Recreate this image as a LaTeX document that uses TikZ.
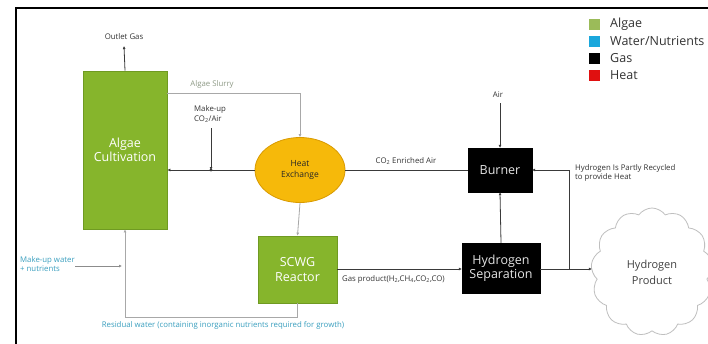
\documentclass[tikz,border=0pt]{standalone}
\usepackage{fontspec}
\setmainfont{Open Sans}
\usetikzlibrary{arrows.meta,shapes.geometric,shapes.symbols}
\definecolor{algaegreen}{HTML}{86B52C}
\definecolor{algaeedge}{HTML}{6F9A22}
\definecolor{legendgreen}{HTML}{9BBB59}
\definecolor{waterblue}{HTML}{1AA7DC}
\definecolor{heatred}{HTML}{E01010}
\definecolor{hxfill}{HTML}{F6B90A}
\definecolor{hxedge}{HTML}{D99A00}
\definecolor{watertext}{HTML}{3A9FBF}
\definecolor{slurrytext}{HTML}{8E9A86}
\definecolor{pipegray}{HTML}{A8A8A8}
\definecolor{gasline}{HTML}{3A3A3A}
\begin{document}
\begin{tikzpicture}[x=1pt,y=-1pt,
  unitbox/.style={rectangle,inner sep=0pt,align=center,text=white,
    font=\fontsize{12.5}{14.5}\selectfont},
  greenunit/.style={unitbox,fill=algaegreen,draw=algaeedge,line width=0.8pt},
  gasunit/.style={unitbox,fill=black,draw=black,text=white!90!black},
  smalllabel/.style={font=\fontsize{7.8}{9.4}\selectfont,text=black!80,inner sep=0pt},
  tip/.style={-{Latex[length=3pt,width=3pt]}},
  gaspipe/.style={tip,draw=gasline,line width=0.8pt},
  waterpipe/.style={tip,draw=pipegray,line width=0.8pt},
  legendsq/.style={rectangle,minimum size=11pt,inner sep=0pt},
  legendtext/.style={anchor=west,inner sep=0pt,font=\fontsize{12.5}{14}\selectfont,text=black!80}
]
\useasboundingbox (0,0) rectangle (708,343);
\clip (0,0) rectangle (708,343);
\fill[white] (0,0) rectangle (708,343);

% frame edges
\draw[line width=1.8pt] (16,360) -- (16,8) -- (730,8);

% process units
\node[greenunit,minimum width=84pt,minimum height=158pt] (algae) at (125,150) {Algae\\Cultivation};
\node[ellipse,fill=hxfill,draw=hxedge,line width=0.8pt,minimum width=90pt,minimum height=65pt,
  inner sep=0pt,align=center,font=\fontsize{8.5}{11}\selectfont,text=black!85] (heat) at (300,170) {Heat\\Exchange};
\node[gasunit,minimum width=64pt,minimum height=44pt] (burner) at (500,170) {Burner};
\node[gasunit,minimum width=78pt,minimum height=50pt] (sep) at (501,268) {Hydrogen\\Separation};
\node[greenunit,minimum width=79pt,minimum height=67pt] (scwg) at (297.5,269.5) {SCWG\\Reactor};
\node[cloud,cloud puffs=13,cloud puff arc=110,aspect=1,draw=black!25,fill=white,line width=0.8pt,
  minimum width=122pt,minimum height=128pt,inner sep=0pt,align=center,
  font=\fontsize{11}{16}\selectfont,text=black!75] (cloud) at (652,272) {Hydrogen\\Product};

% free ends and bends
\coordinate (outlet) at (124,46);
\coordinate (slurry) at (167,93);
\coordinate (co2in) at (211,128);
\coordinate (co2join) at (211,170);
\coordinate (airin) at (500,103);
\coordinate (split) at (569,269);
\coordinate (resid) at (0,317);
\coordinate (mwin) at (75,266);
\coordinate (mwend) at (122,266);

% gas lines
\draw[gaspipe] (algae.north) -- (outlet);
\node[smalllabel] (outletlbl) at (124,37) {Outlet Gas};
\draw[gasline,line width=0.8pt] (burner.west) -- (heat.east);
\draw[gaspipe] (heat.west) -- (algae.east |- heat.west);
\draw[gaspipe] (co2in) -- (co2join);
\fill[gasline] (co2join) circle (1.6pt);
\node[smalllabel,align=left,anchor=west] (co2lbl) at (194,114) {Make-up\\CO\textsubscript{2}/Air};
\node[smalllabel] (enrichlbl) at (406,161) {CO\textsubscript{2} Enriched Air};
\draw[gaspipe] (airin) -- (burner.north);
\node[smalllabel] (airlbl) at (498,95) {Air};
\draw[gaspipe] (sep.north) -- (burner.south);
\draw[gaspipe] (scwg.east |- split) -- (sep.west |- split);
\node[smalllabel,anchor=west] (gaslbl) at (342,279) {Gas product(H\textsubscript{2},CH\textsubscript{4},CO\textsubscript{2},CO)};
\draw[gaspipe] (sep.east |- split) -- (cloud.west |- split);
\draw[gaspipe] (split) |- (burner.east);
\node[smalllabel,align=left,anchor=west] (recyclbl) at (575,173) {Hydrogen Is Partly Recycled\\to provide Heat};

% slurry and water lines
\draw[waterpipe] (slurry) -| (heat.north);
\node[smalllabel,text=slurrytext] (slurrylbl) at (212,84) {Algae Slurry};
\draw[waterpipe] (heat.south) -- (scwg.north);
\draw[waterpipe] (scwg.south) -- (scwg.south |- resid) -| (algae.south);
\node[smalllabel,text=watertext] (residlbl) at (223,325) {Residual water (containing inorganic nutrients required for growth)};
\draw[waterpipe,draw=black!45] (mwin) -- (mwend);
\node[smalllabel,text=watertext,align=left,anchor=west] (mwlbl) at (20,264) {Make-up water\\+ nutrients};

% legend
\node[legendsq,fill=legendgreen] (lg1) at (594,24) {};
\node[legendsq,fill=waterblue] (lg2) at (594,41) {};
\node[legendsq,fill=black] (lg3) at (594,58) {};
\node[legendsq,fill=heatred] (lg4) at (594,75) {};
\node[legendtext] (lt1) at (610,24) {Algae};
\node[legendtext] (lt2) at (610,41) {Water/Nutrients};
\node[legendtext] (lt3) at (610,58) {Gas};
\node[legendtext] (lt4) at (610,75) {Heat};
\end{tikzpicture}
\end{document}
